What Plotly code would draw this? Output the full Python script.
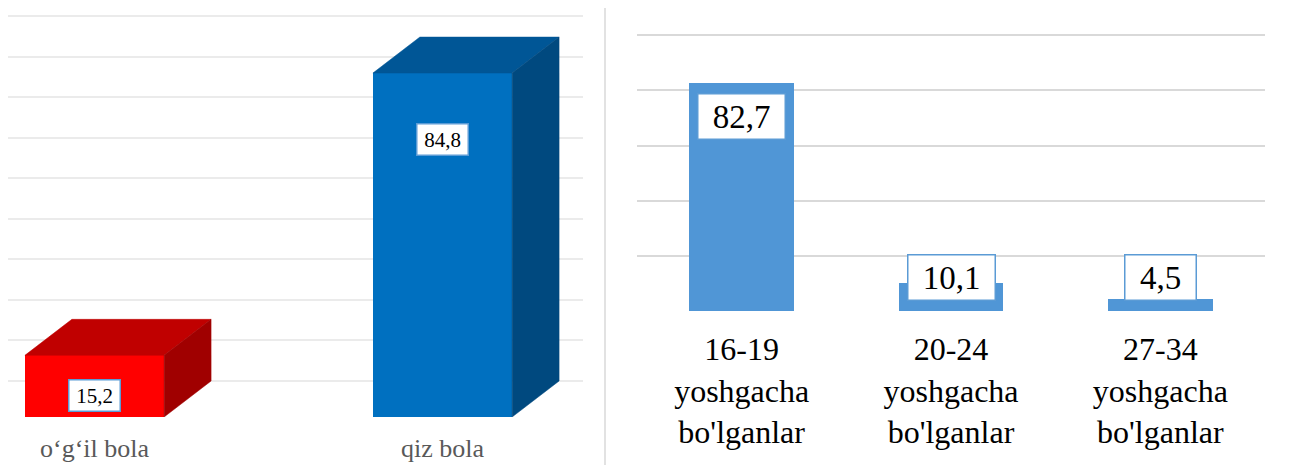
"""
Ikki panelli ustunli diagramma:
    · chapda jins bo'yicha ulush (3D ko'rinishli ustunlar)
    · o'ngda yosh guruhlari bo'yicha ulush (oddiy ustunlar, ramka ichida)
"""

import plotly.graph_objects as go

# --- ma'lumotlar -----------------------------------------------------------
JINS = ["o‘g‘il bola", "qiz bola"]
JINS_ULUSH = [15.2, 84.8]

YOSH = [
    "16-19<br>yoshgacha<br>bo'lganlar",
    "20-24<br>yoshgacha<br>bo'lganlar",
    "27-34<br>yoshgacha<br>bo'lganlar",
]
YOSH_ULUSH = [82.7, 10.1, 4.5]

# --- uslub ------------------------------------------------------------------
SHRIFT = "Times New Roman, Liberation Serif, DejaVu Serif, serif"
RANG_OLD = ["#ff0000", "#0070c0"]     # old yuzi
RANG_TEPA = ["#c00000", "#005696"]    # ustki yuzi
RANG_YON = ["#a00000", "#00497f"]     # yon yuzi
RANG_YOSH = "#5096d6"
RANG_CHEGARA = "#5b9bd5"

# sahifa tanasi 8px chekinish beradi, shuning uchun rasm shunga moslangan
OFF = 8
W = 1296 - OFF
H = 465 - OFF
BAR_W = 0.4          # chap ustun kengligi (kategoriya birligida)
CHUQUR_X = 0.135     # 3D chuqurlik, x birligida
CHUQUR_Y = 8.88      # 3D chuqurlik, y birligida


def vergul(v):
    return f"{v:.1f}".replace(".", ",")


def px_x(p):
    return (p - OFF) / W


def px_y(p):
    return 1 - (p - OFF) / H


fig = go.Figure()

# --- chap panel: 3D ustunlar ----------------------------------------------
xs = list(range(len(JINS)))
for i, (x, v) in enumerate(zip(xs, JINS_ULUSH)):
    xl, xr = x - BAR_W / 2, x + BAR_W / 2
    old_tepa = v - CHUQUR_Y
    # ustki yuz
    fig.add_trace(go.Scatter(
        x=[xl, xr, xr + CHUQUR_X, xl + CHUQUR_X, xl],
        y=[old_tepa, old_tepa, v, v, old_tepa],
        fill="toself", fillcolor=RANG_TEPA[i], mode="lines",
        line=dict(color=RANG_TEPA[i], width=0.5),
        xaxis="x", yaxis="y", showlegend=False, hoverinfo="skip",
    ))
    # yon yuz
    fig.add_trace(go.Scatter(
        x=[xr, xr, xr + CHUQUR_X, xr + CHUQUR_X, xr],
        y=[-CHUQUR_Y, old_tepa, v, 0, -CHUQUR_Y],
        fill="toself", fillcolor=RANG_YON[i], mode="lines",
        line=dict(color=RANG_YON[i], width=0.5),
        xaxis="x", yaxis="y", showlegend=False, hoverinfo="skip",
    ))

fig.add_trace(go.Bar(
    x=xs, y=JINS_ULUSH, base=-CHUQUR_Y, width=BAR_W,
    marker=dict(color=RANG_OLD, line=dict(width=0)),
    xaxis="x", yaxis="y", showlegend=False,
))

for x, v in zip(xs, JINS_ULUSH):
    yc = max(v - CHUQUR_Y - 16.3, -CHUQUR_Y + 5.3)
    fig.add_annotation(
        x=x, y=yc, xref="x", yref="y", text=vergul(v), showarrow=False,
        font=dict(family=SHRIFT, size=21, color="#000000"),
        bgcolor="white", bordercolor=RANG_CHEGARA, borderwidth=1.5,
        borderpad=2, width=46, height=26,
    )

# --- o'ng panel: oddiy ustunlar --------------------------------------------
fig.add_trace(go.Bar(
    x=YOSH, y=YOSH_ULUSH, width=0.5,
    marker=dict(color=RANG_YOSH, line=dict(width=0)),
    xaxis="x2", yaxis="y2", showlegend=False,
))

for k, v in zip(YOSH, YOSH_ULUSH):
    matn = vergul(v)
    fig.add_annotation(
        x=k, y=max(v - 12, 12), xref="x2", yref="y2", text=matn,
        showarrow=False, font=dict(family=SHRIFT, size=33, color="#000000"),
        bgcolor="white", bordercolor=RANG_CHEGARA, borderwidth=1.5,
        borderpad=2, width=16 * len(matn) + 18, height=40,
    )

# o'ng panel ramkasi
fig.add_shape(
    type="rect", xref="paper", yref="paper",
    x0=px_x(605), x1=px_x(1294.5), y0=-0.01, y1=1.01,
    line=dict(color="#d9d9d9", width=1.5), fillcolor="rgba(0,0,0,0)",
    layer="below",
)

fig.update_layout(
    width=W, height=H,
    margin=dict(l=0, r=0, t=0, b=0),
    paper_bgcolor="white", plot_bgcolor="rgba(0,0,0,0)",
    font=dict(family=SHRIFT),
    bargap=0,
    xaxis=dict(
        domain=[px_x(8), px_x(583)], range=[-0.2486, 1.4037],
        tickvals=xs, ticktext=JINS, showgrid=False, zeroline=False,
        ticks="", ticklabelstandoff=13,
        tickfont=dict(family=SHRIFT, size=26, color="#595959"),
    ),
    yaxis=dict(
        domain=[px_y(417), 1], range=[-CHUQUR_Y, (381 - OFF) / 4.056],
        tickvals=list(range(0, 100, 10)), showticklabels=False,
        showgrid=True, gridcolor="#ebebeb", gridwidth=1.5, zeroline=False,
    ),
    xaxis2=dict(
        domain=[px_x(637), px_x(1265)], anchor="y2", showgrid=False,
        zeroline=False, ticks="", ticklabelstandoff=16,
        tickfont=dict(family=SHRIFT, size=32, color="#000000"),
    ),
    yaxis2=dict(
        domain=[px_y(311), px_y(29.8)], range=[0, 102], anchor="x2",
        tickvals=list(range(0, 101, 20)), showticklabels=False,
        showgrid=True, gridcolor="#d9d9d9", gridwidth=1.5, zeroline=False,
    ),
)

fig.write_html("out.html")
